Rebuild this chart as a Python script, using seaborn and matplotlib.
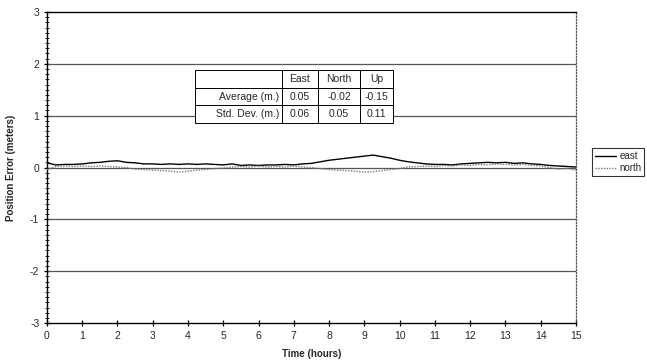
import numpy as np
import pandas as pd
import matplotlib
matplotlib.use("Agg")
import matplotlib.pyplot as plt
from matplotlib.ticker import MultipleLocator
import seaborn as sns

# === 1. Data ===
hours = [0.0, 0.25, 0.5, 0.75, 1.0, 1.25, 1.5, 1.75, 2.0, 2.25, 2.5, 2.75,
         3.0, 3.25, 3.5, 3.75, 4.0, 4.25, 4.5, 4.75, 5.0, 5.25, 5.5, 5.75,
         6.0, 6.25, 6.5, 6.75, 7.0, 7.25, 7.5, 7.75, 8.0, 8.25, 8.5, 8.75,
         9.0, 9.25, 9.5, 9.75, 10.0, 10.25, 10.5, 10.75, 11.0, 11.25, 11.5,
         11.75, 12.0, 12.25, 12.5, 12.75, 13.0, 13.25, 13.5, 13.75, 14.0,
         14.25, 14.5, 14.75, 15.0]

east = [0.09, 0.05, 0.06, 0.06, 0.07, 0.09, 0.10, 0.12, 0.13, 0.10, 0.09, 0.07,
        0.07, 0.06, 0.07, 0.06, 0.07, 0.06, 0.07, 0.06, 0.05, 0.07, 0.04, 0.05,
        0.04, 0.05, 0.05, 0.06, 0.05, 0.07, 0.08, 0.11, 0.14, 0.16, 0.18, 0.20,
        0.22, 0.24, 0.21, 0.18, 0.14, 0.11, 0.09, 0.07, 0.06, 0.06, 0.05,
        0.07, 0.08, 0.09, 0.10, 0.09, 0.10, 0.08, 0.09, 0.07, 0.06,
        0.04, 0.03, 0.02, 0.01]

north = [-0.04, 0.02, 0.03, 0.02, 0.03, 0.02, 0.03, 0.02, 0.01, 0.00, -0.03, -0.04,
         -0.05, -0.06, -0.07, -0.09, -0.07, -0.05, -0.04, -0.02, -0.01, 0.01, 0.02, 0.01,
         0.03, 0.01, 0.02, 0.01, 0.03, 0.01, 0.00, -0.02, -0.04, -0.05, -0.06, -0.07,
         -0.09, -0.08, -0.06, -0.04, -0.02, 0.01, 0.02, 0.03, 0.02, 0.04, 0.03,
         0.05, 0.04, 0.06, 0.05, 0.07, 0.06, 0.05, 0.06, 0.04, 0.03,
         0.00, -0.03, -0.02, -0.05]

table_cols = ["", "East", "North", "Up"]
table_rows = [["Average (m.)", "0.05", "-0.02", "-0.15"],
              ["Std. Dev. (m.)", "0.06", "0.05", "0.11"]]

df = pd.DataFrame({
    "hours": hours * 2,
    "error": east + north,
    "series": ["east"] * len(hours) + ["north"] * len(hours),
})

# === 2. Style ===
sns.set_style("white")
plt.rcParams["font.family"] = ["Liberation Sans", "DejaVu Sans"]
plt.rcParams["axes.unicode_minus"] = False

fig = plt.figure(figsize=(6.47, 3.63), dpi=100)
ax = fig.add_axes([0.0726, 0.110, 0.8174, 0.857])

# === 3. Gridlines at each metre ===
for g in [-2, -1, 0, 1, 2]:
    ax.axhline(g, color="#555555", lw=0.9, zorder=1)

# === 4. Lines ===
sns.lineplot(data=df, x="hours", y="error", hue="series", style="series",
             palette={"east": "black", "north": "#777777"},
             dashes={"east": "", "north": (1, 1)},
             linewidth=1.0, ax=ax, zorder=3)

ax.set_xlim(0, 15)
ax.set_ylim(-3, 3)
ax.xaxis.set_major_locator(MultipleLocator(1))
ax.yaxis.set_major_locator(MultipleLocator(1))
ax.yaxis.set_minor_locator(MultipleLocator(0.1))
ax.tick_params(axis="both", which="major", direction="inout", length=5,
               width=0.9, labelsize=7.5, color="black", pad=3,
               left=True, bottom=True)
ax.tick_params(axis="y", which="minor", direction="inout", length=3,
               width=0.7, left=True)

for side in ["left", "bottom", "top"]:
    ax.spines[side].set_color("black")
    ax.spines[side].set_linewidth(1.0)
ax.spines["right"].set_color("#555555")
ax.spines["right"].set_linestyle((0, (1, 1.5)))
ax.spines["right"].set_linewidth(0.9)

ax.set_xlabel("Time (hours)", fontsize=7, fontweight="bold", labelpad=6)
ax.set_ylabel("Position Error (meters)", fontsize=7, fontweight="bold", labelpad=10)

# === 5. Legend ===
handles, labels = ax.get_legend_handles_labels()
leg = ax.legend(handles, labels, loc="upper left",
                bbox_to_anchor=(0.915, 0.592), bbox_transform=fig.transFigure,
                fontsize=7, frameon=True, fancybox=False, handlelength=2.2,
                handletextpad=0.3, borderpad=0.3, labelspacing=0.2,
                borderaxespad=0)
leg.get_frame().set_edgecolor("black")
leg.get_frame().set_linewidth(0.8)

# === 6. Stats table ===
tbl = ax.table(cellText=table_rows, colLabels=table_cols,
               colWidths=[87, 37, 42, 33], cellLoc="center",
               bbox=[0.28, 0.643, 0.374, 0.170], zorder=5)
tbl.auto_set_font_size(False)
tbl.set_fontsize(7.5)
for (r, c), cell in tbl.get_celld().items():
    cell.set_edgecolor("black")
    cell.set_linewidth(0.7)
    cell.set_facecolor("white")
    if c == 0:
        cell.get_text().set_ha("right")
        cell.PAD = 0.03

fig.savefig("out.png", dpi=100)
